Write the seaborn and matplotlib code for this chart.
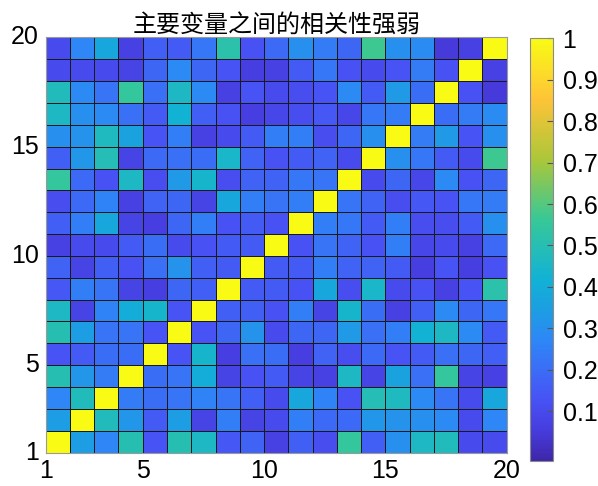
import numpy as np
import matplotlib
matplotlib.use("Agg")
import matplotlib.pyplot as plt
import seaborn as sns
from matplotlib.colors import LinearSegmentedColormap

# Correlation coefficients between variables 1..19 (lower triangle, row by row)
row_02 = [0.34]
row_03 = [0.27, 0.48]
row_04 = [0.50, 0.32, 0.24]
row_05 = [0.13, 0.15, 0.20, 0.20]
row_06 = [0.50, 0.34, 0.22, 0.22, 0.13]
row_07 = [0.46, 0.08, 0.26, 0.40, 0.44, 0.13]
row_08 = [0.14, 0.25, 0.22, 0.08, 0.06, 0.18, 0.16]
row_09 = [0.17, 0.08, 0.16, 0.12, 0.21, 0.31, 0.16, 0.15]
row_10 = [0.07, 0.10, 0.10, 0.15, 0.20, 0.10, 0.12, 0.15, 0.15]
row_11 = [0.16, 0.25, 0.38, 0.08, 0.06, 0.18, 0.25, 0.12, 0.15, 0.12]
row_12 = [0.11, 0.19, 0.26, 0.07, 0.17, 0.18, 0.08, 0.38, 0.25, 0.22, 0.25]
row_13 = [0.55, 0.19, 0.12, 0.46, 0.11, 0.33, 0.44, 0.11, 0.17, 0.17, 0.23, 0.22]
row_14 = [0.16, 0.32, 0.49, 0.08, 0.19, 0.21, 0.20, 0.45, 0.17, 0.12, 0.15, 0.17, 0.10]
row_15 = [0.30, 0.31, 0.47, 0.36, 0.13, 0.25, 0.07, 0.10, 0.15, 0.25, 0.25, 0.11, 0.18, 0.30]
row_16 = [0.46, 0.30, 0.28, 0.21, 0.15, 0.42, 0.16, 0.12, 0.06, 0.09, 0.11, 0.14, 0.09, 0.23, 0.24]
row_17 = [0.48, 0.28, 0.22, 0.55, 0.21, 0.46, 0.28, 0.07, 0.13, 0.10, 0.11, 0.13, 0.28, 0.15, 0.33, 0.20]
row_18 = [0.10, 0.10, 0.10, 0.08, 0.18, 0.28, 0.18, 0.13, 0.06, 0.07, 0.15, 0.23, 0.12, 0.10, 0.13, 0.24, 0.12]
row_19 = [0.10, 0.27, 0.38, 0.07, 0.16, 0.15, 0.23, 0.52, 0.12, 0.19, 0.30, 0.24, 0.18, 0.57, 0.30, 0.29, 0.05, 0.07]

lower_rows = [row_02, row_03, row_04, row_05, row_06, row_07, row_08, row_09, row_10,
              row_11, row_12, row_13, row_14, row_15, row_16, row_17, row_18, row_19]

edge_labels = ["1", "5", "10", "15", "20"]
cbar_ticks = [0.1, 0.2, 0.3, 0.4, 0.5, 0.6, 0.7, 0.8, 0.9, 1.0]
cbar_labels = ["0.1", "0.2", "0.3", "0.4", "0.5", "0.6", "0.7", "0.8", "0.9", "1"]

# symmetric matrix with unit diagonal
n = len(lower_rows) + 1
corr = np.eye(n)
for i, row in enumerate(lower_rows, start=1):
    corr[i, :i] = row
    corr[:i, i] = row

# parula-like colormap
parula_pts = [
    (0.0, (0.2422, 0.1504, 0.6603)),
    (1 / 14, (0.2758, 0.2342, 0.8710)),
    (1 / 7, (0.2810, 0.3228, 0.9579)),
    (2 / 7, (0.1786, 0.5289, 0.9682)),
    (2.5 / 7, (0.1110, 0.6200, 0.8850)),
    (3 / 7, (0.0689, 0.6948, 0.8394)),
    (4 / 7, (0.2161, 0.7843, 0.5923)),
    (5 / 7, (0.6720, 0.7793, 0.2227)),
    (6 / 7, (0.9970, 0.7659, 0.2199)),
    (1.0, (0.9769, 0.9839, 0.0805)),
]
parula = LinearSegmentedColormap.from_list("parula", parula_pts)

plt.rcParams["font.family"] = ["Liberation Sans", "Noto Sans CJK SC", "DejaVu Sans"]

fig = plt.figure(figsize=(5.98, 4.86), dpi=100)
ax = fig.add_axes([0.0764, 0.0689, 0.771, 0.854])
cax = fig.add_axes([0.886, 0.0514, 0.0385, 0.870])

sns.heatmap(corr, ax=ax, cmap=parula, vmin=-0.02, vmax=1.0,
            linewidths=0.6, linecolor="#1a1a1a",
            cbar_ax=cax, cbar_kws={"ticks": cbar_ticks})
ax.invert_yaxis()

edge_pos = [0, 4, 9, 14, 19]
ax.set_xticks(edge_pos)
ax.set_xticklabels(edge_labels, rotation=0)
ax.set_yticks(edge_pos)
ax.set_yticklabels(edge_labels, rotation=0)
ax.tick_params(axis="both", length=0, labelsize=18, pad=5, colors="black")
for s in ax.spines.values():
    s.set_visible(True)
    s.set_color("#9a9a9a")
    s.set_linewidth(0.8)

ax.set_title("主要变量之间的相关性强弱", fontsize=17.3, pad=3)

cbar = ax.collections[0].colorbar
cbar.set_ticks(cbar_ticks)
cbar.set_ticklabels(cbar_labels)
cbar.outline.set_edgecolor("#8a8a8a")
cbar.outline.set_linewidth(0.8)
cax.tick_params(labelsize=18, direction="in", length=4, width=0.8,
                color="#555555", pad=7)

fig.savefig("out.png", dpi=100)
